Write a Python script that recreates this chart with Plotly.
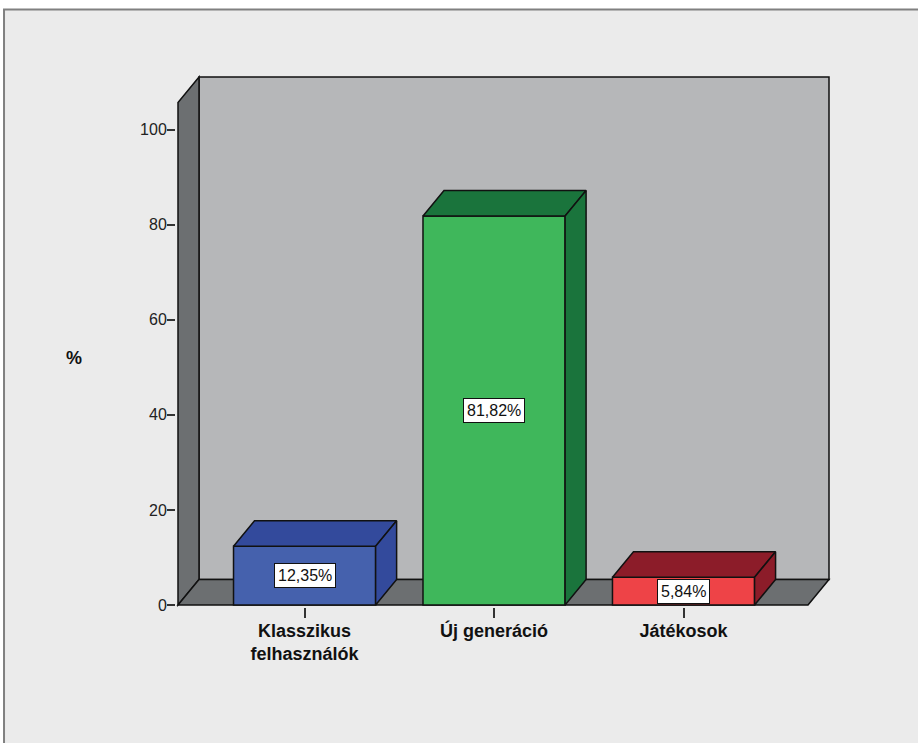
import plotly.graph_objects as go

# ---- data ----
categories = ["Klasszikus<br>felhasználók", "Új generáció", "Játékosok"]
values = [12.35, 81.82, 5.84]
front_colors = ["#4561ad", "#3fb75b", "#ee4347"]
dark_colors = ["#334a9c", "#1a743c", "#8c1c29"]
y_ticks = [0, 20, 40, 60, 80, 100]

# ---- geometry (layout, not data) ----
W, H = 918, 743
PXX, PXY = 189.5, 4.75          # pixels per category / per percent
XL, XR, TOP = -0.668, 2.657, 105.7
DX, DY = 21 / PXX, 25.5 / PXY    # 3D depth offset in data units
BW = 0.75
PAD = 2
xmin, xmax = XL - PAD / PXX, XR + DX + PAD / PXX
ymin, ymax = -PAD / PXY, TOP + DY + PAD / PXY
L = 178 - PAD
PW = (xmax - xmin) * PXX
R = W - L - PW
B = H - (605 + PAD)
PH = (ymax - ymin) * PXY
T = H - B - PH

def xp(px):
    return (px - L) / PW

def yp(py):
    return (H - B - py) / PH

EDGE = dict(color="#111111", width=1.5)
fig = go.Figure()

# front faces
fig.add_trace(go.Bar(
    x=list(range(len(values))), y=values, width=BW,
    marker=dict(color=front_colors, line=EDGE),
    hoverinfo="skip", showlegend=False))

# tops and sides
for i, v in enumerate(values):
    x0, x1 = i - BW / 2, i + BW / 2
    fig.add_trace(go.Scatter(
        x=[x0, x0 + DX, x1 + DX, x1, x0], y=[v, v + DY, v + DY, v, v],
        fill="toself", fillcolor=dark_colors[i], mode="lines", line=EDGE,
        hoverinfo="skip", showlegend=False))
    fig.add_trace(go.Scatter(
        x=[x1, x1, x1 + DX, x1 + DX, x1], y=[0, v, v + DY, DY, 0],
        fill="toself", fillcolor=dark_colors[i], mode="lines", line=EDGE,
        hoverinfo="skip", showlegend=False))

shapes = [
    # outer frame
    dict(type="rect", xref="paper", yref="paper", x0=xp(4), x1=xp(930),
         y0=yp(760), y1=yp(10), fillcolor="#ebebeb",
         line=dict(color="#808080", width=2), layer="below"),
    # back wall
    dict(type="path", xref="x", yref="y", layer="below",
         path=f"M{XL+DX},{DY} L{XL+DX},{TOP+DY} L{XR+DX},{TOP+DY} L{XR+DX},{DY} Z",
         fillcolor="#b6b7b9", line=EDGE),
    # side wall
    dict(type="path", xref="x", yref="y", layer="below",
         path=f"M{XL},0 L{XL},{TOP} L{XL+DX},{TOP+DY} L{XL+DX},{DY} Z",
         fillcolor="#6c6f71", line=EDGE),
    # floor
    dict(type="path", xref="x", yref="y", layer="below",
         path=f"M{XL},0 L{XL+DX},{DY} L{XR+DX},{DY} L{XR},0 Z",
         fillcolor="#6c6f71", line=EDGE),
]

annotations = [
    dict(x=i, y=v / 2, xref="x", yref="y",
         text=f"{v:.2f}".replace(".", ",") + "%", showarrow=False,
         font=dict(family="Arial, Liberation Sans", size=16, color="#111111"),
         bgcolor="white", bordercolor="#111111", borderwidth=1, borderpad=3)
    for i, v in enumerate(values)
]
annotations.append(dict(x=xp(74), y=yp(358), xref="paper", yref="paper",
                        xanchor="center", yanchor="middle",
                        text="<b>%</b>", showarrow=False,
                        font=dict(family="Arial, Liberation Sans", size=18, color="#111111")))

fig.update_layout(
    width=W, height=H,
    margin=dict(l=L, r=R, t=T, b=B, pad=0),
    paper_bgcolor="white", plot_bgcolor="rgba(0,0,0,0)",
    shapes=shapes, annotations=annotations,
    xaxis=dict(range=[xmin, xmax], tickvals=list(range(len(categories))),
               ticktext=[f"<b>{c}</b>" for c in categories],
               ticks="outside", ticklen=10, tickwidth=1.5, tickcolor="#333333",
               ticklabelstandoff=-3,
               showgrid=False, zeroline=False, showline=False, automargin=False,
               tickfont=dict(family="Arial, Liberation Sans", size=18, color="#111111"),
               fixedrange=True),
    yaxis=dict(range=[ymin, ymax], tickvals=y_ticks,
               ticks="outside", ticklen=8, tickwidth=1.5, tickcolor="#333333",
               ticklabelstandoff=-3,
               showgrid=False, zeroline=False, showline=False, automargin=False,
               tickfont=dict(family="Arial, Liberation Sans", size=16, color="#222222"),
               fixedrange=True),
)

fig.write_html("out.html")
